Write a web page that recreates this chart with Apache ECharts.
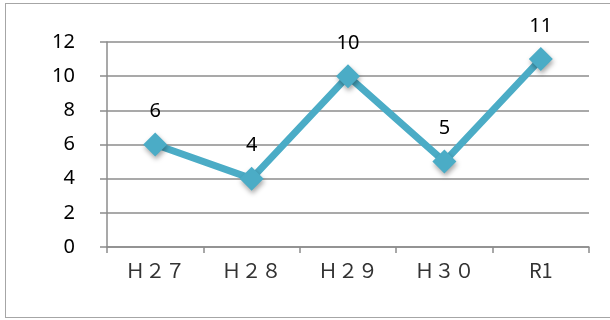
<!DOCTYPE html>
<html>
<head>
<meta charset="utf-8">
<script src="https://cdn.jsdelivr.net/npm/echarts@6/dist/echarts.min.js"></script>
<style>
  html, body { margin: 0; padding: 0; background: #fff; }
  #frame {
    position: absolute; left: 5px; top: 3px; width: 620px; height: 313px;
    border: 1.5px solid #a6a6a6;
  }
  #chart { position: absolute; left: 0; top: 0; width: 610px; height: 320px; }
</style>
</head>
<body>
<div id="frame"></div>
<div id="chart"></div>
<script>
const categories = ["Ｈ２７", "Ｈ２８", "Ｈ２９", "Ｈ３０", "R1"];
const values = [6, 4, 10, 5, 11];
const yTicks = { min: 0, max: 12, interval: 2 };

const chart = echarts.init(document.getElementById("chart"));
chart.setOption({
  animation: false,
  grid: { left: 107, right: 21, top: 42, bottom: 73 },
  xAxis: {
    type: "category",
    data: categories,
    boundaryGap: true,
    axisLine: { lineStyle: { color: "#8c8c8c", width: 1.5 } },
    axisTick: { show: true, length: 6, lineStyle: { color: "#8c8c8c", width: 1.5 } },
    axisLabel: {
      margin: 13,
      color: "#333",
      fontSize: 20,
      fontFamily: "Noto Sans CJK JP",
    },
  },
  yAxis: {
    type: "value",
    min: yTicks.min,
    max: yTicks.max,
    interval: yTicks.interval,
    axisLine: { show: true, lineStyle: { color: "#8c8c8c", width: 1.5 } },
    axisTick: { show: true, length: 7, lineStyle: { color: "#8c8c8c", width: 1.5 } },
    splitLine: { lineStyle: { color: "#8c8c8c", width: 1.5 } },
    axisLabel: {
      margin: 32,
      color: "#000",
      fontSize: 20,
      fontFamily: "Noto Sans",
    },
  },
  series: [
    {
      type: "line",
      data: values,
      symbol: "diamond",
      symbolSize: 24,
      lineStyle: { color: "#4bacc6", width: 7 },
      itemStyle: {
        color: "#4bacc6",
        shadowColor: "rgba(0,0,0,0.35)",
        shadowBlur: 5,
        shadowOffsetX: 1,
        shadowOffsetY: 3,
      },
      label: {
        show: true,
        position: "top",
        distance: 11,
        color: "#000",
        fontSize: 20,
        fontFamily: "Noto Sans",
      },
    },
  ],
});
</script>
</body>
</html>
